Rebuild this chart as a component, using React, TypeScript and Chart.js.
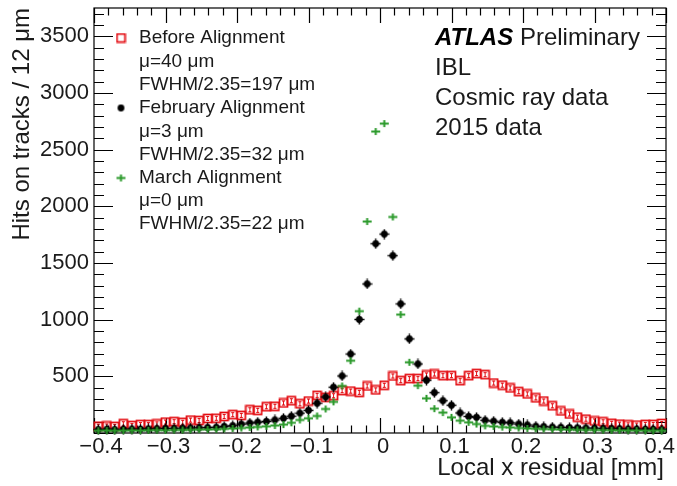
import React, { useEffect, useRef } from "react";
import { Chart, registerables } from "chart.js";
Chart.register(...registerables);

// Bin centres of the histogram (68 bins between -0.4 and 0.4 mm)
const binCenters = [
  -0.394, -0.382, -0.371, -0.359, -0.347, -0.335, -0.324, -0.312, -0.3, -0.288,
  -0.276, -0.265, -0.253, -0.241, -0.229, -0.218, -0.206, -0.194, -0.182, -0.171,
  -0.159, -0.147, -0.135, -0.124, -0.112, -0.1, -0.088, -0.076, -0.065, -0.053,
  -0.041, -0.029, -0.018, -0.006, 0.006, 0.018, 0.029, 0.041, 0.053, 0.065,
  0.076, 0.088, 0.1, 0.112, 0.124, 0.135, 0.147, 0.159, 0.171, 0.182,
  0.194, 0.206, 0.218, 0.229, 0.241, 0.253, 0.265, 0.276, 0.288, 0.3,
  0.312, 0.324, 0.335, 0.347, 0.359, 0.371, 0.382, 0.394,
];

const beforeAlignment = [
  60, 62, 58, 82, 66, 74, 74, 80, 96, 100,
  94, 114, 110, 128, 130, 146, 162, 155, 205, 200,
  232, 236, 265, 285, 258, 282, 332, 315, 329, 374,
  370, 359, 415, 380, 421, 503, 462, 480, 480, 512,
  521, 506, 506, 462, 506, 524, 515, 441, 422, 398,
  365, 345, 310, 282, 240, 195, 168, 140, 122, 106,
  99, 86, 78, 72, 70, 76, 76, 84,
];

const februaryAlignment = [
  30, 32, 30, 33, 35, 34, 36, 38, 40, 40,
  42, 44, 46, 48, 50, 58, 65, 78, 88, 95,
  102, 115, 130, 148, 175, 200, 262, 318, 404, 503,
  697, 1002, 1315, 1670, 1755, 1565, 1139, 830, 609, 465,
  356, 285, 245, 177, 146, 138, 112, 104, 94, 90,
  79, 71, 60, 56, 52, 50, 47, 45, 44, 42,
  40, 38, 37, 35, 34, 33, 32, 30,
];

const marchAlignment = [
  20, 22, 20, 21, 23, 22, 24, 25, 24, 26,
  27, 28, 30, 31, 33, 36, 40, 44, 48, 53,
  59, 66, 74, 90, 115, 130, 150, 212, 275, 415,
  638, 1075, 1866, 2660, 2730, 1906, 1045, 624, 418, 306,
  215, 180, 138, 109, 94, 79, 63, 58, 52, 48,
  44, 40, 37, 35, 33, 31, 30, 28, 27, 26,
  25, 24, 23, 22, 22, 21, 20, 20,
];

const xTickValues = [-0.4, -0.3, -0.2, -0.1, 0, 0.1, 0.2, 0.3, 0.4];
const xTickLabels = ["\u22120.4", "\u22120.3", "\u22120.2", "\u22120.1", "0", "0.1", "0.2", "0.3", "0.4"];
const yTickValues = [500, 1000, 1500, 2000, 2500, 3000, 3500];
const yTickLabels = ["500", "1000", "1500", "2000", "2500", "3000", "3500"];

const legendLines = [
  "Before Alignment", "\u03bc=40 \u03bcm", "FWHM/2.35=197 \u03bcm",
  "February Alignment", "\u03bc=3 \u03bcm", "FWHM/2.35=32 \u03bcm",
  "March Alignment", "\u03bc=0 \u03bcm", "FWHM/2.35=22 \u03bcm",
];
const infoLines = ["IBL", "Cosmic ray data", "2015 data"];

const RED = "#e30d12";
const GREEN = "#2a992a";
const FONT = "'Liberation Sans', Arial, Helvetica, sans-serif";

function makeSquare(withBar: boolean): HTMLCanvasElement {
  const c = document.createElement("canvas");
  c.width = 11; c.height = 11;
  const g = c.getContext("2d")!;
  g.strokeStyle = RED; g.lineWidth = 1.7;
  g.strokeRect(1.5, 1.5, 8, 8);
  if (withBar) {
    g.lineWidth = 1;
    g.beginPath();
    g.moveTo(5.5, 3.5); g.lineTo(5.5, 7.5);
    g.moveTo(4, 3.5); g.lineTo(7, 3.5);
    g.moveTo(4, 7.5); g.lineTo(7, 7.5);
    g.stroke();
  }
  return c;
}
function makeDot(withBar: boolean): HTMLCanvasElement {
  const c = document.createElement("canvas");
  c.width = 11; c.height = 11;
  const g = c.getContext("2d")!;
  g.fillStyle = "#000"; g.strokeStyle = "#000";
  g.beginPath(); g.arc(5.5, 5.5, 3.4, 0, Math.PI * 2); g.fill();
  if (withBar) {
    g.lineWidth = 1.5;
    g.beginPath();
    g.moveTo(0.5, 5.5); g.lineTo(10.5, 5.5);
    g.moveTo(5.5, 0.5); g.lineTo(5.5, 10.5);
    g.stroke();
  }
  return c;
}
function makeCross(): HTMLCanvasElement {
  const c = document.createElement("canvas");
  c.width = 11; c.height = 9;
  const g = c.getContext("2d")!;
  g.strokeStyle = GREEN; g.lineWidth = 2;
  g.beginPath();
  g.moveTo(1, 4.5); g.lineTo(10, 4.5);
  g.moveTo(5.5, 1); g.lineTo(5.5, 8);
  g.stroke();
  return c;
}

export default function App() {
  const ref = useRef<HTMLCanvasElement | null>(null);
  useEffect(() => {
    if (!ref.current) return;
    const sq = makeSquare(true);
    const sqLeg = makeSquare(false);
    const dot = makeDot(true);
    const dotLeg = makeDot(false);
    const cross = makeCross();
    const toPts = (arr: number[]) => arr.map((v, i) => ({ x: binCenters[i], y: v }));

    const decor = {
      id: "decor",
      beforeDatasetsDraw(chart: any) {
        const { ctx, chartArea: a, scales } = chart;
        const xs = scales.x, ys = scales.y;
        ctx.save();
        ctx.strokeStyle = "#000";
        ctx.lineWidth = 1.2;
        ctx.strokeRect(a.left, a.top, a.right - a.left, a.bottom - a.top);
        ctx.beginPath();
        for (let k = -20; k <= 20; k++) {
          const v = k * 0.02;
          const px = Math.round(xs.getPixelForValue(v)) + 0.5;
          const major = k % 5 === 0;
          const len = major ? 15 : 7.5;
          ctx.moveTo(px, a.bottom); ctx.lineTo(px, a.bottom - len);
          ctx.moveTo(px, a.top); ctx.lineTo(px, a.top + len);
        }
        for (let v = 0; v <= 3700; v += 100) {
          const py = Math.round(ys.getPixelForValue(v)) + 0.5;
          const major = v % 500 === 0;
          const len = major ? 19 : 10;
          ctx.moveTo(a.left, py); ctx.lineTo(a.left + len, py);
          ctx.moveTo(a.right, py); ctx.lineTo(a.right - len, py);
        }
        ctx.stroke();
        ctx.restore();
      },
      afterDraw(chart: any) {
        const { ctx, chartArea: a, scales } = chart;
        const xs = scales.x, ys = scales.y;
        ctx.save();
        ctx.fillStyle = "#1a1a1a";
        ctx.font = `22px ${FONT}`;
        ctx.textBaseline = "middle";
        xTickValues.forEach((v, i) => {
          let px = xs.getPixelForValue(v) + 3;
          if (i === 0) px += 4;
          ctx.textAlign = "center";
          const w = ctx.measureText(xTickLabels[i]).width;
          if (px + w / 2 > 675) px = 675 - w / 2;
          ctx.fillText(xTickLabels[i], px, a.bottom + 14);
        });
        ctx.textAlign = "right";
        yTickValues.forEach((v, i) => {
          ctx.fillText(yTickLabels[i], a.left - 5, ys.getPixelForValue(v));
        });
        ctx.font = `24px ${FONT}`;
        ctx.textAlign = "right";
        ctx.fillText("Local x residual [mm]", a.right - 2, a.bottom + 35);
        ctx.save();
        ctx.translate(22, a.top);
        ctx.rotate(-Math.PI / 2);
        ctx.textAlign = "right";
        ctx.fillText("Hits on tracks / 12 \u03bcm", 0, 0);
        ctx.restore();

        ctx.font = `19px ${FONT}`;
        ctx.textAlign = "left";
        const ly = [38, 62, 85, 108, 132, 155, 178, 201, 224];
        legendLines.forEach((t, i) => ctx.fillText(t, 139, ly[i]));
        ctx.drawImage(sqLeg, 121 - sqLeg.width / 2, ly[0] - sqLeg.height / 2);
        ctx.drawImage(dotLeg, 121 - dotLeg.width / 2, ly[3] - dotLeg.height / 2);
        ctx.drawImage(cross, 121 - cross.width / 2, ly[6] - cross.height / 2);

        ctx.font = `italic bold 24px ${FONT}`;
        ctx.fillStyle = "#000";
        ctx.fillText("ATLAS", 435, 38);
        const wA = ctx.measureText("ATLAS").width;
        ctx.font = `24px ${FONT}`;
        ctx.fillStyle = "#1a1a1a";
        ctx.fillText(" Preliminary", 435 + wA, 38);
        const iy = [68, 98, 128];
        infoLines.forEach((t, i) => ctx.fillText(t, 435, iy[i]));
        ctx.restore();
      },
    };

    const chart = new Chart(ref.current, {
      type: "scatter",
      data: {
        datasets: [
          { label: "Before Alignment", data: toPts(beforeAlignment), pointStyle: sq as any, order: 3, clip: false as any, borderColor: RED, backgroundColor: RED },
          { label: "February Alignment", data: toPts(februaryAlignment), pointStyle: dot as any, order: 2, clip: false as any, borderColor: "#000", backgroundColor: "#000" },
          { label: "March Alignment", data: toPts(marchAlignment), pointStyle: cross as any, order: 1, clip: false as any, borderColor: GREEN, backgroundColor: GREEN },
        ],
      },
      options: {
        animation: false,
        responsive: false,
        maintainAspectRatio: false,
        events: [],
        layout: { padding: { left: 94, right: 11, top: 8, bottom: 53 } },
        scales: {
          x: { type: "linear", min: -0.4, max: 0.4, display: false },
          y: { type: "linear", min: 0, max: 3750, display: false },
        },
        plugins: { legend: { display: false }, tooltip: { enabled: false } },
      },
      plugins: [decor],
    });
    return () => chart.destroy();
  }, []);

  return (
    <div style={{ position: "fixed", left: 0, top: 0, width: 677, height: 486, background: "#fff" }}>
      <canvas ref={ref} width={677} height={486} style={{ display: "block", width: 677, height: 486 }} />
    </div>
  );
}
